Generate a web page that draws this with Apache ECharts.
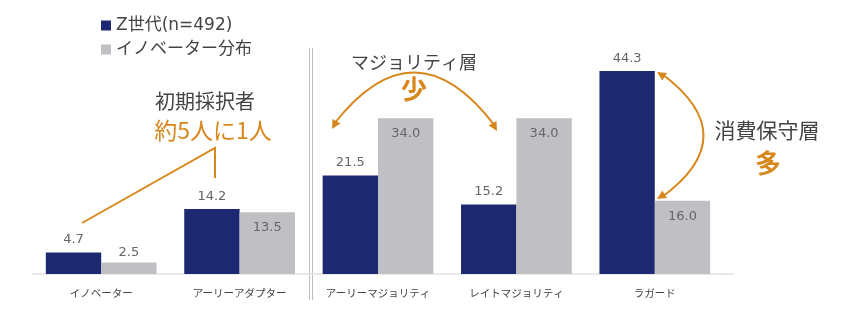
<!DOCTYPE html>
<html><head><meta charset="utf-8">
<script src="https://cdn.jsdelivr.net/npm/echarts@6/dist/echarts.min.js"></script>
<style>html,body{margin:0;padding:0;background:#fff;}#c{width:843px;height:328px;}</style>
</head><body><div id="c"></div>
<script>
const categories = ['イノベーター','アーリーアダプター','アーリーマジョリティ','レイトマジョリティ','ラガード'];
const genZ = [4.7, 14.2, 21.5, 15.2, 44.3];
const innovDist = [2.5, 13.5, 34.0, 34.0, 16.0];
const seriesNames = ['Z世代(n=492)', 'イノベーター分布'];

const NAVY = '#1c2870', GRAY = '#c0bfc3', ORANGE = '#d8871c', TXT = '#444', FONT = '"Noto Sans CJK JP", "Noto Sans", sans-serif';
const WIDE = '"DejaVu Sans", "Noto Sans CJK JP", sans-serif';

function arrowHead(tipX, tipY, fromX, fromY, len, half) {
  const dx = tipX - fromX, dy = tipY - fromY, L = Math.hypot(dx, dy);
  const ux = dx / L, uy = dy / L, px = -uy, py = ux;
  const bx = tipX - ux * len, by = tipY - uy * len;
  return { type: 'polygon', shape: { points: [[tipX, tipY], [bx + px * half, by + py * half], [bx - px * half, by - py * half]] }, style: { fill: ORANGE } };
}
function curve(x1, y1, cx, cy, x2, y2) {
  return { type: 'bezierCurve', shape: { x1, y1, x2, y2, cpx1: cx, cpy1: cy }, style: { stroke: ORANGE, lineWidth: 2, fill: null } };
}
function label(x, y, text, size, color, weight) {
  return { type: 'text', x, y, style: { text, font: (weight || 'normal') + ' ' + size + 'px ' + FONT, fill: color, textAlign: 'center', textVerticalAlign: 'middle' } };
}

const chart = echarts.init(document.getElementById('c'), null, { renderer: 'canvas' });
chart.setOption({
  animation: false,
  textStyle: { fontFamily: FONT },
  legend: {
    orient: 'vertical', left: 96, top: 12, itemWidth: 10, itemHeight: 10, itemGap: 7,
    icon: 'rect', textStyle: { fontSize: 17, color: TXT, fontFamily: WIDE },
    data: seriesNames
  },
  grid: { left: 32, right: 119, top: 45, bottom: 54 },
  xAxis: {
    type: 'category', data: categories,
    axisLine: { lineStyle: { color: '#e2e2e2', width: 1.5 } },
    axisTick: { show: false },
    axisLabel: { fontSize: 10.5, color: TXT, margin: 14, fontFamily: FONT }
  },
  yAxis: { type: 'value', min: 0, max: 50, show: false, splitLine: { show: false } },
  series: [
    {
      name: seriesNames[0], type: 'bar', data: genZ, barWidth: '40%', barGap: '0%',
      itemStyle: { color: NAVY },
      label: { show: true, position: 'top', distance: 6, fontSize: 13, fontFamily: WIDE, color: '#666', formatter: p => p.value.toFixed(1) }
    },
    {
      name: seriesNames[1], type: 'bar', barWidth: '40%',
      data: innovDist.map(v => v < 5 ? { value: v, label: { position: 'top', distance: 3 } } : v),
      itemStyle: { color: GRAY },
      label: { show: true, position: 'insideTop', distance: 9, fontSize: 13, fontFamily: WIDE, color: '#666', formatter: p => p.value.toFixed(1) }
    }
  ],
  graphic: [
    { type: 'line', shape: { x1: 309.5, y1: 48, x2: 309.5, y2: 300 }, style: { stroke: '#bdbdbd', lineWidth: 1 } },
    { type: 'line', shape: { x1: 312.5, y1: 48, x2: 312.5, y2: 300 }, style: { stroke: '#bdbdbd', lineWidth: 1 } },
    { type: 'line', shape: { x1: 720, y1: 274, x2: 734, y2: 274 }, style: { stroke: '#e2e2e2', lineWidth: 1.5 } },
    // 初期採択者
    label(205, 101, '初期採択者', 20, TXT),
    label(213, 130, '約5人に1人', 23, ORANGE),
    { type: 'polyline', shape: { points: [[82, 223], [215, 148], [215, 178]] }, style: { stroke: ORANGE, lineWidth: 2, fill: null } },
    // マジョリティ層
    label(414, 62, 'マジョリティ層', 18, TXT),
    label(414, 89, '少', 26, ORANGE, 'bold'),
    curve(334, 124, 415, 20, 495, 126),
    arrowHead(332, 129, 340, 115, 9, 4.5),
    arrowHead(497, 131, 489, 117, 9, 4.5),
    // 消費保守層
    label(767, 130, '消費保守層', 21, TXT),
    label(768, 163, '多', 26, ORANGE, 'bold'),
    curve(662, 74, 745, 136, 662, 197),
    arrowHead(657, 72, 670, 80, 9, 4.5),
    arrowHead(657, 199, 670, 191, 9, 4.5)
  ]
});
</script></body></html>
